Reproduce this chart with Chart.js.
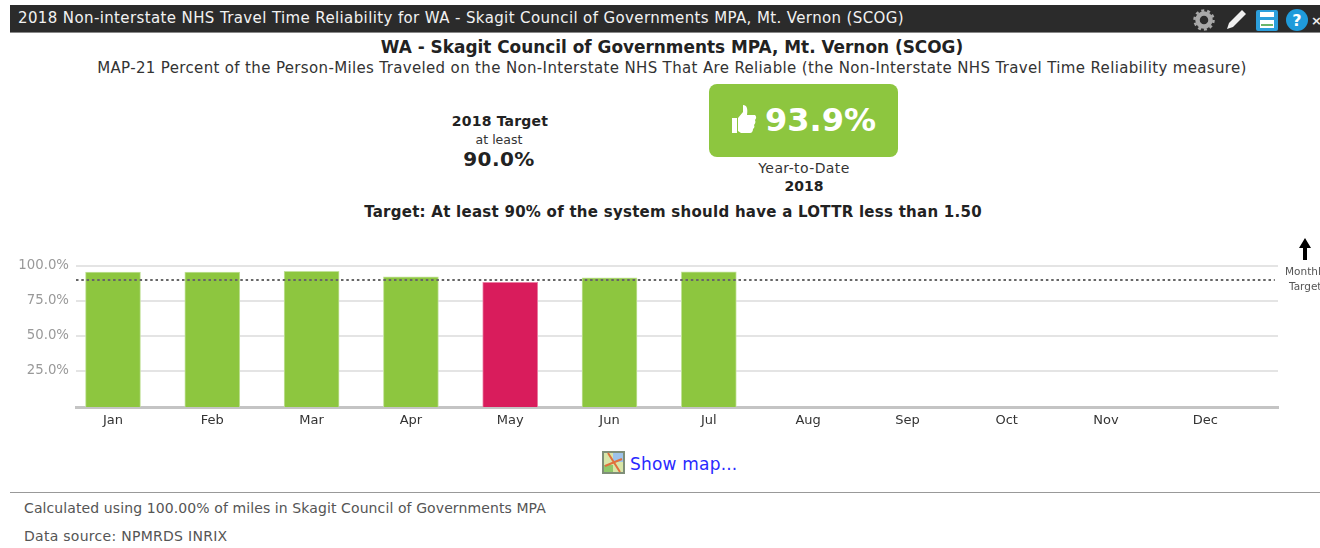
<!DOCTYPE html>
<html>
<head>
<meta charset="utf-8">
<title>Non-Interstate NHS Travel Time Reliability</title>
<script src="https://cdn.jsdelivr.net/npm/chart.js@4/dist/chart.umd.min.js"></script>
<style>
  html, body { margin: 0; padding: 0; background: #fff; }
  body { width: 1320px; height: 548px; overflow: hidden; position: relative; font-family: "DejaVu Sans", sans-serif; color: #333; }
  .abs { position: absolute; white-space: nowrap; }
  .mid { transform: translateX(-50%); }
  #bar { left: 10px; top: 5px; width: 1310px; height: 27px; background: #2b2b2b; border-bottom: 1px solid #888; }
  #barTitle { left: 18px; top: 9px; font-size: 15px; letter-spacing: 0.38px; color: #f2f2f2; line-height: 18px; }
  #kpi { left: 709px; top: 84px; width: 189px; height: 73px; background: #8dc63f; border-radius: 8px; }
  #kpiText { left: 765px; top: 100px; font-size: 32px; font-weight: bold; color: #fff; line-height: 40px; }
  #chartBox { position: absolute; left: 0; top: 240px; width: 1320px; height: 200px; }
  #rule { left: 10px; top: 492px; width: 1310px; height: 1px; background: #999; }
</style>
</head>
<body>
<div class="abs" id="bar"></div>
<div class="abs" id="barTitle">2018 Non-interstate NHS Travel Time Reliability for WA - Skagit Council of Governments MPA, Mt. Vernon (SCOG)</div>

<!-- toolbar icons -->
<svg class="abs" style="left:1192px;top:7px" width="128" height="26" viewBox="0 0 128 26">
  <circle cx="12" cy="13" r="6.5" fill="none" stroke="#a8a8a8" stroke-width="4.5"/>
  <circle cx="12" cy="13" r="9.5" fill="none" stroke="#a8a8a8" stroke-width="2.5" stroke-dasharray="3 2.96"/>
  <path d="M35 22 l2-6 L50 3 l4 4 L41 20 Z" fill="#f0f0f0"/>
  <rect x="64" y="3" width="22" height="21" rx="2" fill="#2c9fdc"/>
  <rect x="68" y="5" width="14" height="5" fill="#fff"/>
  <rect x="68" y="13" width="14" height="8" fill="#fff"/>
  <rect x="69" y="17" width="12" height="2" fill="#6bb56b"/>
  <circle cx="105" cy="13" r="11" fill="#1f9bdb"/>
  <text x="105" y="19" text-anchor="middle" font-family="DejaVu Sans" font-weight="bold" font-size="16" fill="#fff">?</text>
  <text x="119" y="18" font-family="DejaVu Sans" font-weight="bold" font-size="13" fill="#eee">×</text>
</svg>

<div class="abs mid" style="left:672px;top:37px;font-size:16.9px;font-weight:bold;line-height:20px;color:#222">WA - Skagit Council of Governments MPA, Mt. Vernon (SCOG)</div>
<div class="abs mid" style="left:672px;top:59px;font-size:15px;letter-spacing:0.35px;line-height:18px">MAP-21 Percent of the Person-Miles Traveled on the Non-Interstate NHS That Are Reliable (the Non-Interstate NHS Travel Time Reliability measure)</div>

<div class="abs mid" style="left:500px;top:113px;font-size:14px;letter-spacing:0.2px;font-weight:bold;line-height:16px;color:#222">2018 Target</div>
<div class="abs mid" style="left:499px;top:132px;font-size:12.5px;line-height:15px">at least</div>
<div class="abs mid" style="left:499px;top:148px;font-size:20px;letter-spacing:0.4px;font-weight:bold;line-height:23px;color:#222">90.0%</div>

<div class="abs" id="kpi"></div>
<svg class="abs" style="left:731px;top:104px" width="26" height="30" viewBox="0 0 26 30">
  <path d="M1 14 h5 v15 h-5 Z M7 14 l5-6 V1 c4 0 5 4 4 10 h8 c2 2 1 4 0 5 c1 2 0 4-1 5 c1 2 0 3-1 4 c0 2-1 4-3 4 H10 l-3-2 Z" fill="#fff"/>
</svg>
<div class="abs" id="kpiText">93.9%</div>
<div class="abs mid" style="left:804px;top:160px;font-size:14px;letter-spacing:0.4px;line-height:16px">Year-to-Date</div>
<div class="abs mid" style="left:804px;top:178px;font-size:14px;font-weight:bold;line-height:16px;color:#222">2018</div>

<div class="abs mid" style="left:673px;top:203px;font-size:15px;letter-spacing:0.26px;font-weight:bold;line-height:18px;color:#222">Target: At least 90% of the system should have a LOTTR less than 1.50</div>

<div id="chartBox"><canvas id="reliabilityChart" width="1320" height="200"></canvas></div>

<!-- monthly target marker -->
<svg class="abs" style="left:1298px;top:238px" width="14" height="24" viewBox="0 0 14 24">
  <path d="M7 0 L13 10 H9 V22 H5 V10 H1 Z" fill="#000"/>
</svg>
<div class="abs" style="left:1285px;top:264px;font-size:10.5px;line-height:14px;color:#555">Monthly</div>
<div class="abs" style="left:1289px;top:279px;font-size:10.5px;line-height:14px;color:#555">Target</div>

<!-- map link -->
<svg class="abs" style="left:602px;top:451px" width="23" height="23" viewBox="0 0 23 23">
  <rect x="1" y="1" width="21" height="21" fill="#d8e6a8" stroke="#7f8f78" stroke-width="2"/>
  <rect x="11" y="2" width="10" height="9" fill="#9ec3ea"/>
  <rect x="2" y="14" width="9" height="7" fill="#8fc86a"/>
  <path d="M6 2 L18 21 M3 15 L20 8" stroke="#e0703c" stroke-width="2" fill="none"/>
</svg>
<div class="abs" style="left:630px;top:454px;font-size:17px;letter-spacing:0.2px;line-height:20px;color:#2a2aff">Show map...</div>

<div class="abs" id="rule"></div>
<div class="abs" style="left:24px;top:500px;font-size:14px;letter-spacing:0.1px;line-height:17px;color:#555">Calculated using 100.00% of miles in Skagit Council of Governments MPA</div>
<div class="abs" style="left:24px;top:528px;font-size:14px;letter-spacing:0.28px;line-height:17px;color:#555">Data source: NPMRDS INRIX</div>

<script>
const months = ["Jan", "Feb", "Mar", "Apr", "May", "Jun", "Jul", "Aug", "Sep", "Oct", "Nov", "Dec"];
const reliability = [95.7, 95.7, 96.2, 92.3, 88.3, 91.6, 95.8, null, null, null, null, null];
const targetValue = [90, 90];
const yTicks = [0, 25, 50, 75, 100];

// x runs on a numeric scale so the months can sit off-centre inside the plot
const xMin = -0.3726;
const xMax = 11.732;
const targetX = [xMin, 11.7];

// y starts just under zero so the axis line sits below the zero mark
const yMin = -1;

const GREEN = "#8dc63f";
const RED = "#d91c5c";

new Chart(document.getElementById("reliabilityChart"), {
  data: {
    datasets: [
      {
        type: "line",
        order: 0,
        data: targetX.map((x, i) => ({ x: x, y: targetValue[i] })),
        borderColor: "#666",
        borderWidth: 2,
        borderDash: [2.5, 2.8],
        pointRadius: 0,
      },
      {
        type: "bar",
        order: 1,
        data: months.map((m, i) => ({ x: i, y: reliability[i] })),
        // months under the target turn red
        backgroundColor: reliability.map((v) => (v !== null && v < targetValue[0] ? RED : GREEN)),
        borderColor: reliability.map((v) => (v !== null && v < targetValue[0] ? "#ea7fa3" : "#c3e29c")),
        borderWidth: 1,
        barThickness: 55,
        base: yMin,
      },
    ],
  },
  options: {
    responsive: false,
    animation: false,
    layout: { padding: { top: 26, right: 42, left: 0, bottom: 0 } },
    plugins: { legend: { display: false }, tooltip: { enabled: false } },
    scales: {
      x: {
        type: "linear",
        offset: false,
        min: xMin,
        max: xMax,
        afterFit(scale) { scale.height = 33; },
        afterBuildTicks(scale) { scale.ticks = months.map((m, i) => ({ value: i })); },
        grid: { display: false, drawTicks: false },
        border: { color: "#c4c4c4", width: 3 },
        ticks: {
          autoSkip: false,
          maxRotation: 0,
          padding: 6,
          color: "#333",
          font: { family: "DejaVu Sans", size: 13 },
          callback: (value) => months[value],
        },
      },
      y: {
        min: yMin,
        max: 100,
        afterFit(scale) { scale.width = 76; },
        afterBuildTicks(scale) { scale.ticks = yTicks.map((v) => ({ value: v })); },
        grid: {
          color: (ctx) => (ctx.tick.value === 0 ? "transparent" : "#e4e4e4"),
          lineWidth: 2,
          drawTicks: false,
        },
        border: { display: false },
        ticks: {
          padding: 7,
          color: "#999",
          font: { family: "DejaVu Sans", size: 13.3 },
          callback: (value) => (value === 0 ? "" : value.toFixed(1) + "%"),
        },
      },
    },
  },
});
</script>
</body>
</html>
